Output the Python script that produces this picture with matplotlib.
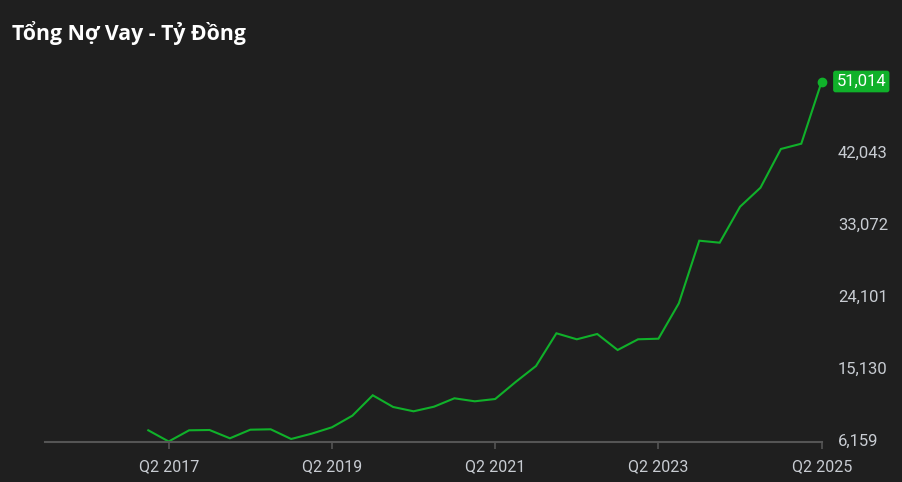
import matplotlib
matplotlib.use("Agg")
import matplotlib.pyplot as plt

quarters = ["Q1 2017", "Q2 2017", "Q3 2017", "Q4 2017",
            "Q1 2018", "Q2 2018", "Q3 2018", "Q4 2018",
            "Q1 2019", "Q2 2019", "Q3 2019", "Q4 2019",
            "Q1 2020", "Q2 2020", "Q3 2020", "Q4 2020",
            "Q1 2021", "Q2 2021", "Q3 2021", "Q4 2021",
            "Q1 2022", "Q2 2022", "Q3 2022", "Q4 2022",
            "Q1 2023", "Q2 2023", "Q3 2023", "Q4 2023",
            "Q1 2024", "Q2 2024", "Q3 2024", "Q4 2024",
            "Q1 2025", "Q2 2025"]
debt = [7554, 6159, 7554, 7592, 6558, 7629, 7679, 6471,
        7131, 7928, 9374, 11916, 10458, 9922, 10495, 11542,
        11168, 11454, 13573, 15566, 19641, 18893, 19554, 17560,
        18893, 18968, 23379, 31179, 30930, 35415, 37783, 42605,
        43265, 51014]
y_ticks = [6159, 15130, 24101, 33072, 42043, 51014]
x_tick_labels = ["Q2 2017", "Q2 2019", "Q2 2021", "Q2 2023", "Q2 2025"]
title = "Tổng Nợ Vay - Tỷ Đồng"

BG = "#1f1f1f"
GREEN = "#10b12a"
W, H = 903, 482

fig = plt.figure(figsize=(W / 100, H / 100), dpi=100, facecolor=BG)
left_px, right_px, bot_px, top_px = 45, 821.7, 441.5, 81.5
ax = fig.add_axes([left_px / W, (H - bot_px) / H,
                   (right_px - left_px) / W, (bot_px - top_px) / H])
ax.set_facecolor(BG)

x = list(range(len(debt)))
ax.plot(x, debt, color=GREEN, lw=1.5, clip_on=False, solid_joinstyle="miter")
ax.plot([x[-1]], [debt[-1]], "o", color=GREEN, ms=6, clip_on=False)

x0 = (left_px - 148.3) / 20.41
ax.set_xlim(x0, len(debt) - 1)
ax.set_ylim(y_ticks[0], y_ticks[-1])

for s in ["top", "right", "left"]:
    ax.spines[s].set_visible(False)
ax.spines["bottom"].set_color("#555555")
ax.spines["bottom"].set_linewidth(1.5)

tick_pos = [quarters.index(l) for l in x_tick_labels]
ax.set_xticks(tick_pos)
ax.set_xticklabels(x_tick_labels, fontsize=11.5, color="#c8ccd2", family="Roboto")
ax.tick_params(axis="x", length=5, width=1.2, color="#555555", pad=8)

ax.set_yticks([])
for i, v in enumerate(y_ticks):
    if i == len(y_ticks) - 1:
        ax.text(1.019, v, f"{v:,}", transform=ax.get_yaxis_transform(),
                ha="left", va="center", fontsize=12, color="white", family="Roboto",
                bbox=dict(boxstyle="round,pad=0.2,rounding_size=0.15",
                          fc=GREEN, ec="none"))
    else:
        ax.text(1.021, v, f"{v:,}", transform=ax.get_yaxis_transform(),
                ha="left", va="center", fontsize=12, color="#c8ccd2", family="Roboto")

fig.text(12 / W, 1 - 33 / H, title, fontsize=15.3, fontweight="bold", color="white",
         family="Open Sans", ha="left", va="center")

fig.savefig("out.png", dpi=100, facecolor=BG)
